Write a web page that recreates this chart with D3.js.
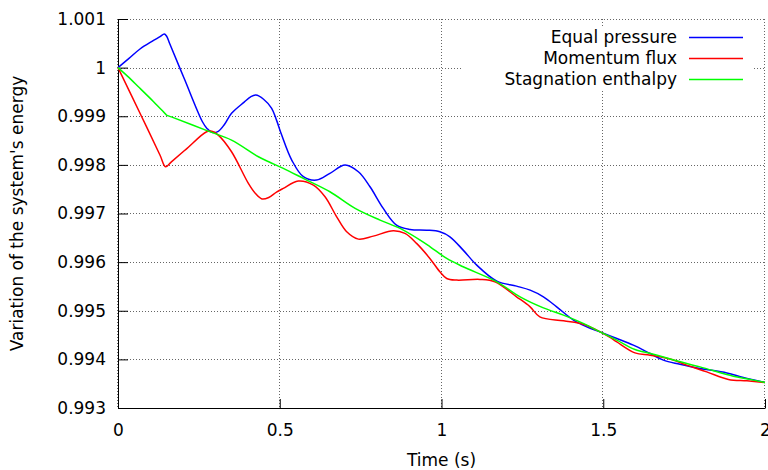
<!DOCTYPE html>
<html>
<head>
<meta charset="utf-8">
<script src="https://cdn.jsdelivr.net/npm/d3@7"></script>
<style>
  body { margin: 0; background: #fff; }
  text { font-family: "DejaVu Sans", sans-serif; font-size: 17px; fill: #000; }
</style>
</head>
<body>
<div class="energy-graph"></div>
<script>
// Values
const timeEqual = [0, 0.034, 0.068, 0.105, 0.130, 0.143, 0.150, 0.160, 0.205, 0.261, 0.275, 0.290, 0.310, 0.330, 0.351, 0.390, 0.410, 0.426, 0.450, 0.475, 0.490, 0.506, 0.537, 0.573, 0.614, 0.655, 0.702, 0.743, 0.779, 0.820, 0.861, 0.903, 0.954, 0.995, 1.026, 1.067, 1.109, 1.171, 1.232, 1.274, 1.315, 1.356, 1.408, 1.449, 1.490, 1.542, 1.593, 1.645, 1.686, 1.737, 1.799, 1.882, 1.933, 2.0];
const equalPressure = [1.0, 1.00019, 1.000383, 1.00054, 1.000637, 1.000691, 1.00065, 1.000491, 0.99977, 0.998887, 0.99875, 0.998669, 0.99869, 0.99884, 0.99906, 0.99929, 0.99940, 0.999436, 0.99935, 0.999162, 0.99892, 0.998613, 0.998099, 0.997756, 0.997687, 0.997825, 0.997996, 0.997858, 0.99755, 0.997105, 0.996761, 0.996673, 0.996658, 0.996624, 0.996521, 0.996247, 0.995938, 0.995609, 0.995506, 0.995424, 0.995287, 0.995081, 0.994807, 0.994669, 0.994566, 0.99443, 0.994292, 0.994121, 0.993984, 0.993901, 0.993813, 0.993722, 0.993628, 0.993525];

const timeMomentum = [0, 0.074, 0.130, 0.147, 0.165, 0.210, 0.274, 0.290, 0.310, 0.351, 0.403, 0.425, 0.445, 0.466, 0.490, 0.511, 0.557, 0.604, 0.640, 0.676, 0.707, 0.743, 0.789, 0.851, 0.887, 0.923, 0.964, 0.995, 1.016, 1.047, 1.119, 1.165, 1.232, 1.274, 1.304, 1.377, 1.438, 1.480, 1.521, 1.542, 1.598, 1.645, 1.712, 1.758, 1.820, 1.887, 1.944, 2.0];
const momentumFlux = [1.0, 0.99898, 0.998197, 0.997961, 0.998063, 0.99832, 0.998681, 0.99869, 0.998613, 0.99827, 0.99762, 0.99741, 0.9973, 0.99733, 0.99744, 0.997516, 0.997667, 0.997584, 0.997344, 0.996932, 0.996624, 0.996473, 0.996535, 0.996644, 0.99659, 0.996385, 0.996076, 0.995801, 0.995664, 0.99563, 0.995644, 0.995595, 0.995287, 0.995081, 0.994875, 0.994793, 0.994724, 0.994601, 0.994451, 0.99436, 0.994134, 0.994087, 0.993998, 0.993881, 0.993743, 0.993587, 0.993558, 0.993525];

const timeStagnation = [0, 0.030, 0.063, 0.110, 0.140, 0.150, 0.165, 0.279, 0.351, 0.434, 0.466, 0.511, 0.573, 0.655, 0.733, 0.810, 0.872, 0.934, 0.965, 1.016, 1.067, 1.171, 1.243, 1.315, 1.377, 1.438, 1.490, 1.542, 1.598, 1.655, 1.712, 1.799, 1.902, 1.944, 2.0];
const stagnationEnthalpy = [1.0, 0.99982, 0.999607, 0.99930, 0.999095, 0.999025, 0.998987, 0.998695, 0.99851, 0.998167, 0.998064, 0.997928, 0.997722, 0.997447, 0.997105, 0.996864, 0.996693, 0.996453, 0.996315, 0.996076, 0.995904, 0.995595, 0.995287, 0.99506, 0.994909, 0.994739, 0.994566, 0.994395, 0.994204, 0.994107, 0.993998, 0.993846, 0.993655, 0.9936, 0.993525];

const seriesNames = ['Equal pressure', 'Momentum flux', 'Stagnation enthalpy'];
const seriesColors = ['#0000ff', '#ff0000', '#00ff00'];

const xTicks = [0, 0.5, 1, 1.5, 2];
const xTickLabels = ['0', '0.5', '1', '1.5', '2'];
const yTicks = [0.993, 0.994, 0.995, 0.996, 0.997, 0.998, 0.999, 1.0, 1.001];
const yTickLabels = ['0.993', '0.994', '0.995', '0.996', '0.997', '0.998', '0.999', '1', '1.001'];

const series = [
  timeEqual.map((t, i) => ({ t, v: equalPressure[i] })),
  timeMomentum.map((t, i) => ({ t, v: momentumFlux[i] })),
  timeStagnation.map((t, i) => ({ t, v: stagnationEnthalpy[i] }))
];

const width = 768;
const height = 470;
const margin = { top: 19, right: 3, bottom: 62, left: 118 };
const innerW = width - margin.left - margin.right;
const innerH = height - margin.top - margin.bottom;

const svg = d3.select('.energy-graph')
  .append('svg')
  .attr('width', width)
  .attr('height', height);

const g = svg.append('g')
  .attr('transform', `translate(${margin.left},${margin.top})`);

const xScale = d3.scaleLinear().domain([0, 2]).range([0, innerW]);
const yScale = d3.scaleLinear().domain([0.993, 1.001]).range([innerH, 0]);

// dotted grid
g.append('g')
  .selectAll('line')
  .data(yTicks)
  .join('line')
  .attr('x1', 0).attr('x2', innerW)
  .attr('y1', d => Math.round(yScale(d)) + 0.5)
  .attr('y2', d => Math.round(yScale(d)) + 0.5)
  .attr('stroke', '#666')
  .attr('stroke-dasharray', '1,2');

g.append('g')
  .selectAll('line')
  .data(xTicks)
  .join('line')
  .attr('x1', d => Math.round(xScale(d)) - 0.5)
  .attr('x2', d => Math.round(xScale(d)) - 0.5)
  .attr('y1', 0).attr('y2', innerH)
  .attr('stroke', '#666')
  .attr('stroke-dasharray', '1,2');

// axes, ticks pointing inward
const xAxis = g.append('g')
  .attr('transform', `translate(0,${innerH})`)
  .call(d3.axisBottom(xScale)
    .tickValues(xTicks)
    .tickFormat((d, i) => xTickLabels[i])
    .tickSizeInner(-9)
    .tickSizeOuter(0)
    .tickPadding(16));

const yAxis = g.append('g')
  .call(d3.axisLeft(yScale)
    .tickValues(yTicks)
    .tickFormat((d, i) => yTickLabels[i])
    .tickSizeInner(-10)
    .tickSizeOuter(0)
    .tickPadding(12));

[xAxis, yAxis].forEach(ax => {
  ax.attr('font-family', null).attr('font-size', null);
  ax.selectAll('path, line').attr('stroke', '#000').attr('stroke-width', 1);
  ax.selectAll('text').attr('fill', '#000');
});

// curves, smoothed through the read points
const line = d3.line()
  .curve(d3.curveCatmullRom.alpha(0.5))
  .x(d => xScale(d.t))
  .y(d => yScale(d.v));

g.selectAll('.curve')
  .data(series)
  .join('path')
  .attr('class', 'curve')
  .attr('d', line)
  .attr('fill', 'none')
  .attr('stroke', (d, i) => seriesColors[i])
  .attr('stroke-width', 1.5)
  .attr('stroke-linejoin', 'round');

// legend (opaque box over the grid)
const legend = svg.append('g');
legend.append('rect')
  .attr('x', 462).attr('y', 26)
  .attr('width', 291).attr('height', 64)
  .attr('fill', '#fff');

const rows = legend.selectAll('.row')
  .data(seriesNames)
  .join('g')
  .attr('class', 'row')
  .attr('transform', (d, i) => `translate(0,${37.5 + i * 21})`);

rows.append('text')
  .attr('x', 677)
  .attr('dy', '0.35em')
  .attr('text-anchor', 'end')
  .text(d => d);

rows.append('line')
  .attr('x1', 689).attr('x2', 743)
  .attr('stroke', (d, i) => seriesColors[i])
  .attr('stroke-width', 1.5);

// axis titles
svg.append('text')
  .attr('x', margin.left + innerW / 2)
  .attr('y', 466)
  .attr('text-anchor', 'middle')
  .text('Time (s)');

svg.append('text')
  .attr('transform', `translate(23,${margin.top + innerH / 2}) rotate(-90)`)
  .attr('text-anchor', 'middle')
  .text("Variation of the system's energy");
</script>
</body>
</html>
